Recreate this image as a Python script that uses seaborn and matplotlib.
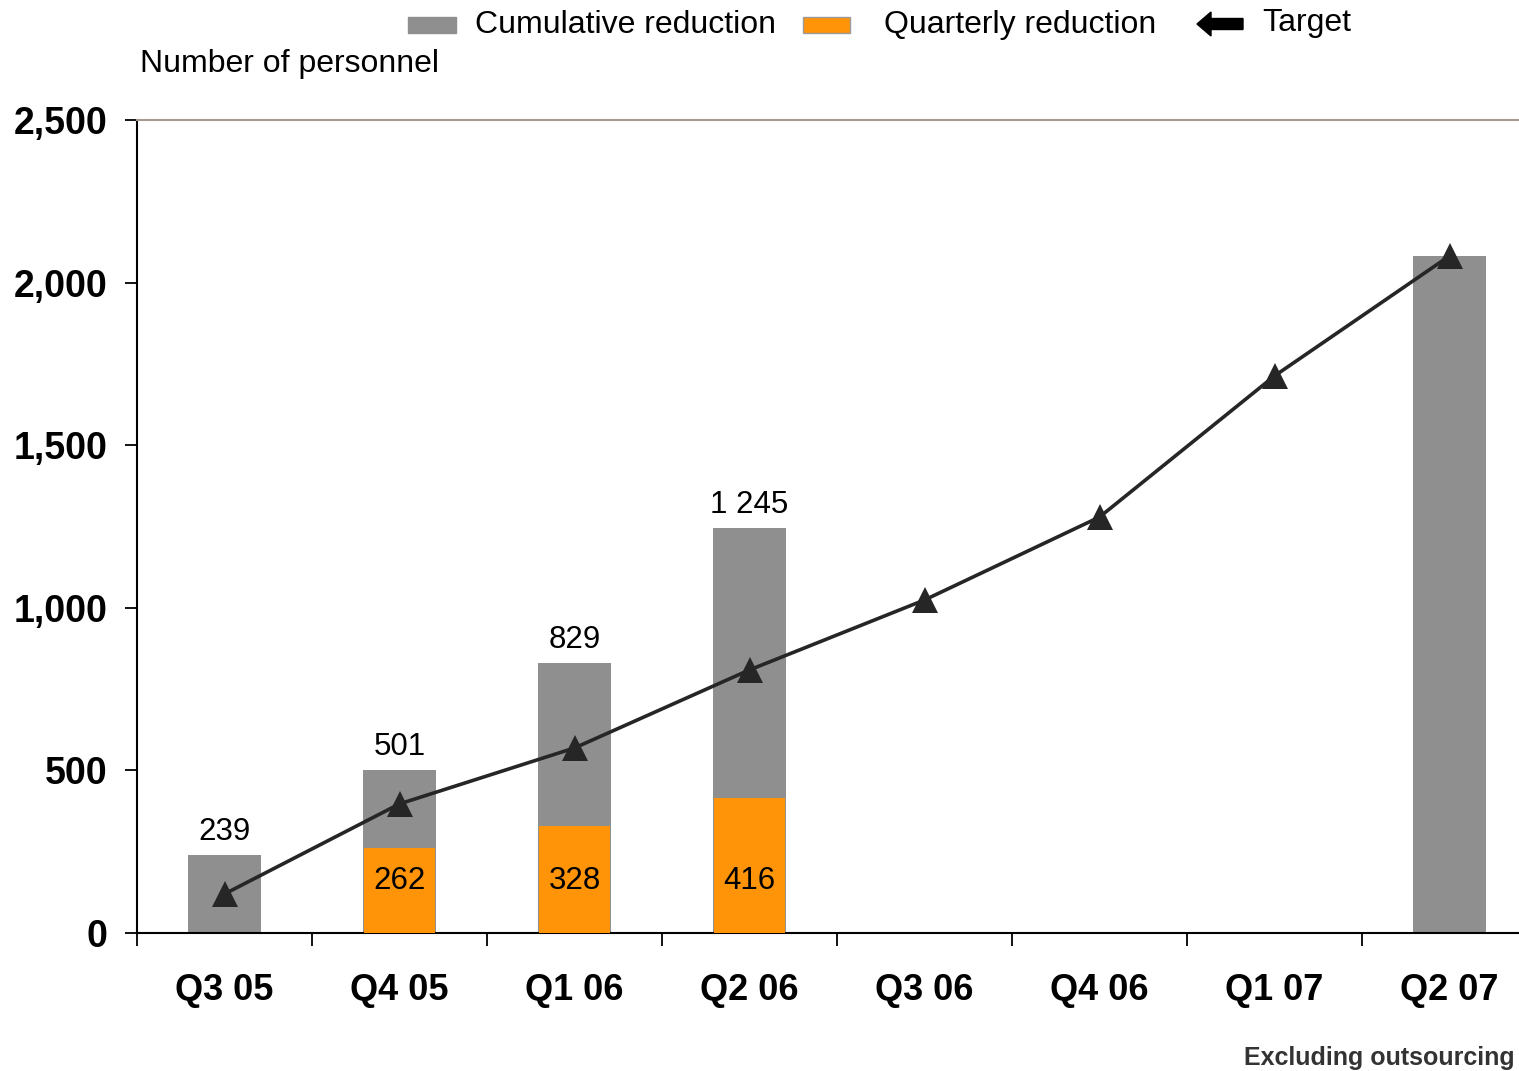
import numpy as np
import pandas as pd
import matplotlib
matplotlib.use("Agg")
import matplotlib.pyplot as plt
import matplotlib.patches as mpatches
from matplotlib.ticker import FixedLocator
import seaborn as sns

# ---- data ----
quarters = ["Q3 05", "Q4 05", "Q1 06", "Q2 06", "Q3 06", "Q4 06", "Q1 07", "Q2 07"]
cumulative = [239, 501, 829, 1245, np.nan, np.nan, np.nan, 2082]
quarterly = [np.nan, 262, 328, 416, np.nan, np.nan, np.nan, np.nan]
target = [120, 397, 569, 809, 1024, 1279, 1713, 2082]
cumulative_labels = ["239", "501", "829", "1 245", "", "", "", ""]
quarterly_labels = ["", "262", "328", "416", "", "", "", ""]
y_ticks = [0, 500, 1000, 1500, 2000, 2500]
y_tick_labels = ["0", "500", "1,000", "1,500", "2,000", "2,500"]

GRAY = "#8f8f8f"
ORANGE = "#ff9408"
LINE = "#262626"

sns.set_style("white")
plt.rcParams["font.family"] = ["Liberation Sans", "DejaVu Sans"]
plt.rcParams["text.color"] = "black"
plt.rcParams["xtick.color"] = "black"
plt.rcParams["ytick.color"] = "black"
plt.rcParams["xtick.labelcolor"] = "black"
plt.rcParams["ytick.labelcolor"] = "black"

W, H = 1519, 1071
fig = plt.figure(figsize=(W / 100, H / 100), dpi=100)
# axes extends slightly past the right edge of the canvas
ax = fig.add_axes([137 / W, 1 - 933 / H, (1537 - 137) / W, (933 - 120) / H])

df = pd.DataFrame({"quarter": quarters, "cumulative": cumulative,
                   "quarterly": quarterly, "target": target})

sns.barplot(data=df, x="quarter", y="cumulative", order=quarters, color=GRAY,
            saturation=1, width=0.42, errorbar=None, linewidth=0, ax=ax, zorder=2)
sns.barplot(data=df, x="quarter", y="quarterly", order=quarters, color=ORANGE,
            saturation=1, width=0.41, errorbar=None, linewidth=0, ax=ax, zorder=3)
sns.lineplot(x=np.arange(len(quarters)), y=df["target"], color=LINE, lw=2.6,
             marker="^", markersize=18.5, markeredgewidth=0, ax=ax, zorder=5)

# value labels
for i, (v, lab) in enumerate(zip(cumulative, cumulative_labels)):
    if lab:
        ax.annotate(lab, (i, v), xytext=(0, 6), textcoords="offset points",
                    ha="center", va="bottom", fontsize=22.5, color="black", zorder=6)
for i, (v, lab) in enumerate(zip(quarterly, quarterly_labels)):
    if lab:
        ax.text(i, 160, lab, ha="center", va="center", fontsize=22.5,
                color="black", zorder=6)

# axes styling
ax.set_xlim(-0.5, len(quarters) - 0.5)
ax.set_ylim(0, 2500)
ax.set_xlabel("")
ax.set_ylabel("")
ax.set_yticks(y_ticks)
ax.set_yticklabels(y_tick_labels, fontsize=27, fontweight="bold", color="black")
ax.set_xticks(range(len(quarters)))
ax.set_xticklabels(quarters, fontsize=26, fontweight="bold", color="black")
ax.xaxis.set_minor_locator(FixedLocator(np.arange(-0.5, len(quarters) + 0.5, 1)))
ax.tick_params(axis="x", which="major", length=0, pad=29)
ax.tick_params(axis="x", which="minor", length=9, width=1.3, color="black",
               direction="out", bottom=True)
ax.tick_params(axis="y", which="major", length=9, width=1.3, color="black",
               direction="out", left=True, pad=12)
for side in ["left", "bottom"]:
    ax.spines[side].set_color("black")
    ax.spines[side].set_linewidth(1.5)
ax.spines["top"].set_color("#a39b93")
ax.spines["top"].set_linewidth(1.5)
ax.spines["right"].set_visible(False)
ax.grid(False)
ax.set_facecolor("white")

# legend row across the top
def fx(px):
    return px / W

def fy(py):
    return 1 - py / H

fig.patches.append(mpatches.Rectangle((fx(408), fy(33)), fx(48), 16 / H,
                                      transform=fig.transFigure, color=GRAY))
fig.text(fx(475), fy(25), "Cumulative reduction", fontsize=23, va="center", ha="left")
fig.patches.append(mpatches.Rectangle((fx(803), fy(33)), fx(47), 16 / H,
                                      transform=fig.transFigure, facecolor=ORANGE,
                                      edgecolor="#9a9a9a", linewidth=1))
fig.text(fx(884), fy(25), "Quarterly reduction", fontsize=23, va="center", ha="left")
fig.patches.append(mpatches.FancyArrow(fx(1243), fy(24), -fx(46), 0, width=11 / H,
                                       head_width=24 / H, head_length=fx(14),
                                       length_includes_head=True,
                                       transform=fig.transFigure, color="black"))
fig.text(fx(1262), fy(23), "Target", fontsize=23, va="center", ha="left")

fig.text(fx(140), fy(64), "Number of personnel", fontsize=23, va="center", ha="left")
fig.text(fx(1515), fy(1058), "Excluding outsourcing", fontsize=18, fontweight="bold",
         color="#333333", va="center", ha="right")

fig.savefig("out.png", dpi=100)
